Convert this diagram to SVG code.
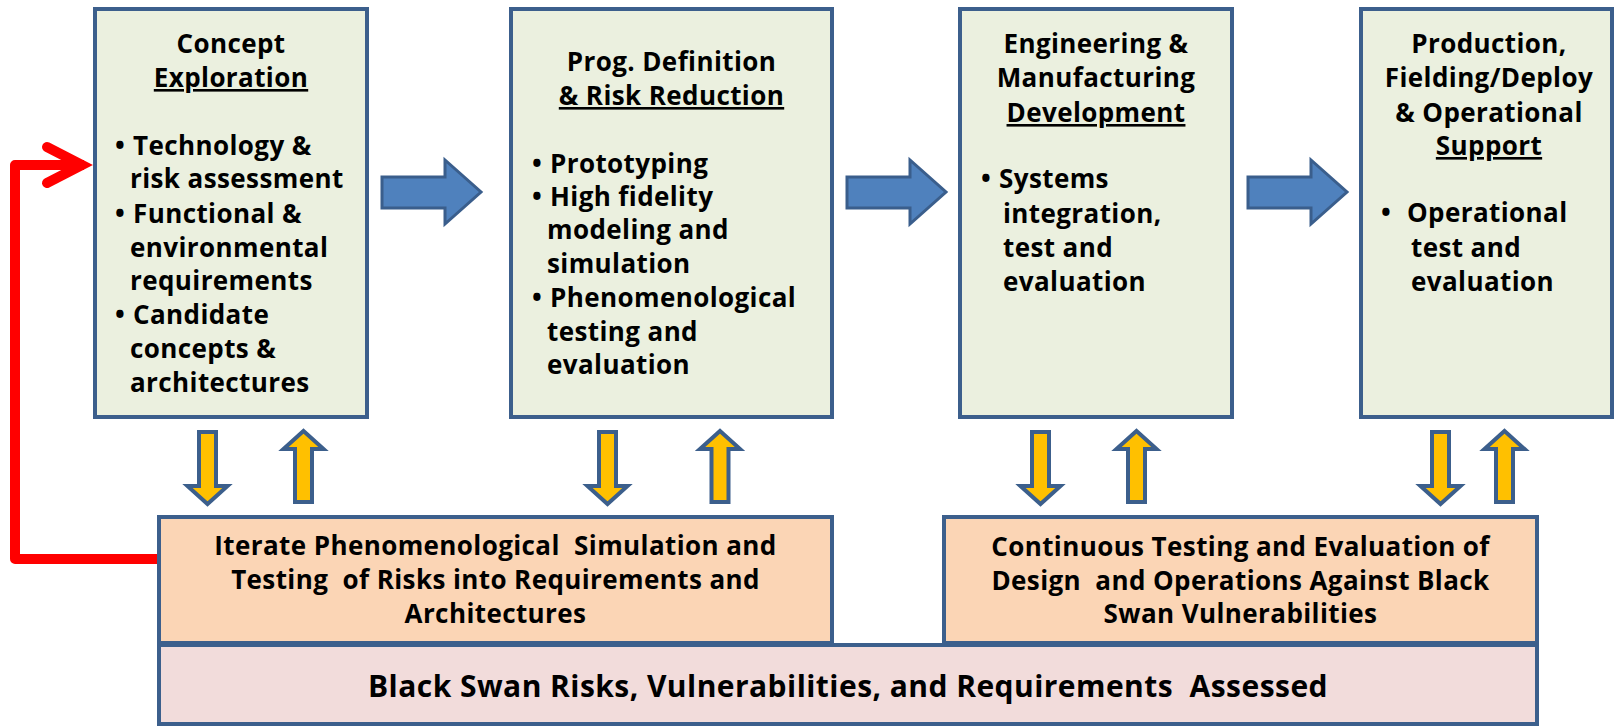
<svg xmlns="http://www.w3.org/2000/svg" width="1615" height="727" viewBox="0 0 1615 727">
<style>
.box{fill:#EBF0DF;stroke:#3C5F8C;stroke-width:4}
.org{fill:#FBD5B5;stroke:#3C5F8C;stroke-width:4}
.pnk{fill:#F2DCDB;stroke:#3C5F8C;stroke-width:4}
.t{font-family:"Open Sans","Liberation Sans",sans-serif;font-weight:700;font-size:26px;letter-spacing:0.4px;fill:#000;white-space:pre}
.c{text-anchor:middle}
.u{text-decoration:underline}
.big{font-size:30px;letter-spacing:0.45px}
.blue{fill:#4F81BD;stroke:#3A5E8C;stroke-width:3}
.yel{fill:#FFC000;stroke:#3C5F8C;stroke-width:4}
.red{fill:none;stroke:#FF0000;stroke-width:10}
</style>
<g id="connectors">
<path class="red" d="M157,559 H15 V165 H84" stroke-linejoin="round"/>
<path class="red" d="M47,147 L82,165 L47,183" stroke-linecap="round" stroke-linejoin="miter"/>
<path class="blue" d="M382,177 H445 V160 L481,192 L445,224 V208 H382 Z"/>
<path class="blue" d="M847,177 H910 V160 L946,192 L910,224 V208 H847 Z"/>
<path class="blue" d="M1248,177 H1311 V160 L1347,192 L1311,224 V208 H1248 Z"/>
<path class="yel" d="M199,432 H216 V486 H227.5 L207.5,504 L187.5,486 H199 Z"/>
<path class="yel" d="M303.5,431 L323.5,449 H312 V502 H295 V449 H283.5 Z"/>
<path class="yel" d="M599,432 H616 V486 H627.5 L607.5,504 L587.5,486 H599 Z"/>
<path class="yel" d="M720,431 L740,449 H728.5 V502 H711.5 V449 H700 Z"/>
<path class="yel" d="M1032,432 H1049 V486 H1060.5 L1040.5,504 L1020.5,486 H1032 Z"/>
<path class="yel" d="M1136.5,431 L1156.5,449 H1145 V502 H1128 V449 H1116.5 Z"/>
<path class="yel" d="M1432,432 H1449 V486 H1460.5 L1440.5,504 L1420.5,486 H1432 Z"/>
<path class="yel" d="M1504.5,431 L1524.5,449 H1513 V502 H1496 V449 H1484.5 Z"/>
</g>
<g id="concept">
<rect class="box" x="95" y="9" width="272" height="408"/>
<text class="t c" x="231" y="53">Concept</text>
<text class="t c u" x="231" y="87">Exploration</text>
<text class="t" y="155"><tspan x="115">•</tspan><tspan x="133">Technology &amp;</tspan></text>
<text class="t" x="130" y="188">risk assessment</text>
<text class="t" y="223"><tspan x="115">•</tspan><tspan x="133">Functional &amp;</tspan></text>
<text class="t" x="130" y="257">environmental</text>
<text class="t" x="130" y="290">requirements</text>
<text class="t" y="324"><tspan x="115">•</tspan><tspan x="133">Candidate</tspan></text>
<text class="t" x="130" y="358">concepts &amp;</text>
<text class="t" x="130" y="392">architectures</text>
</g>
<g id="progdef">
<rect class="box" x="511" y="9" width="321" height="408"/>
<text class="t c" x="671.5" y="71">Prog. Definition</text>
<text class="t c u" x="671.5" y="105">&amp; Risk Reduction</text>
<text class="t" y="173"><tspan x="532">•</tspan><tspan x="550">Prototyping</tspan></text>
<text class="t" y="206"><tspan x="532">•</tspan><tspan x="550">High fidelity</tspan></text>
<text class="t" x="547" y="239">modeling and</text>
<text class="t" x="547" y="273">simulation</text>
<text class="t" y="307"><tspan x="532">•</tspan><tspan x="550">Phenomenological</tspan></text>
<text class="t" x="547" y="341">testing and</text>
<text class="t" x="547" y="374">evaluation</text>
</g>
<g id="emd">
<rect class="box" x="960" y="9" width="272" height="408"/>
<text class="t c" x="1096" y="53">Engineering &amp;</text>
<text class="t c" x="1096" y="87">Manufacturing</text>
<text class="t c u" x="1096" y="122">Development</text>
<text class="t" y="188"><tspan x="981">•</tspan><tspan x="999">Systems</tspan></text>
<text class="t" x="1003" y="223">integration,</text>
<text class="t" x="1003" y="257">test and</text>
<text class="t" x="1003" y="291">evaluation</text>
</g>
<g id="production">
<rect class="box" x="1361" y="9" width="251" height="408"/>
<text class="t c" x="1489" y="53">Production,</text>
<text class="t c" x="1489" y="87">Fielding/Deploy</text>
<text class="t c" x="1489" y="122">&amp; Operational</text>
<text class="t c u" x="1489" y="155">Support</text>
<text class="t" y="222"><tspan x="1381">•</tspan><tspan x="1407">Operational</tspan></text>
<text class="t" x="1411" y="257">test and</text>
<text class="t" x="1411" y="291">evaluation</text>
</g>
<g id="blackswan">
<rect class="pnk" x="159" y="645" width="1378" height="79"/>
<text class="t c big" x="848" y="697">Black Swan Risks, Vulnerabilities, and Requirements  Assessed</text>
</g>
<g id="iterate">
<rect class="org" x="159" y="517" width="673" height="126"/>
<text class="t c" x="495.5" y="555">Iterate Phenomenological  Simulation and</text>
<text class="t c" x="495.5" y="589">Testing  of Risks into Requirements and</text>
<text class="t c" x="495.5" y="623">Architectures</text>
</g>
<g id="continuous">
<rect class="org" x="944" y="517" width="593" height="126"/>
<text class="t c" x="1240.5" y="556">Continuous Testing and Evaluation of</text>
<text class="t c" x="1240.5" y="590">Design  and Operations Against Black</text>
<text class="t c" x="1240.5" y="623">Swan Vulnerabilities</text>
</g>
</svg>
